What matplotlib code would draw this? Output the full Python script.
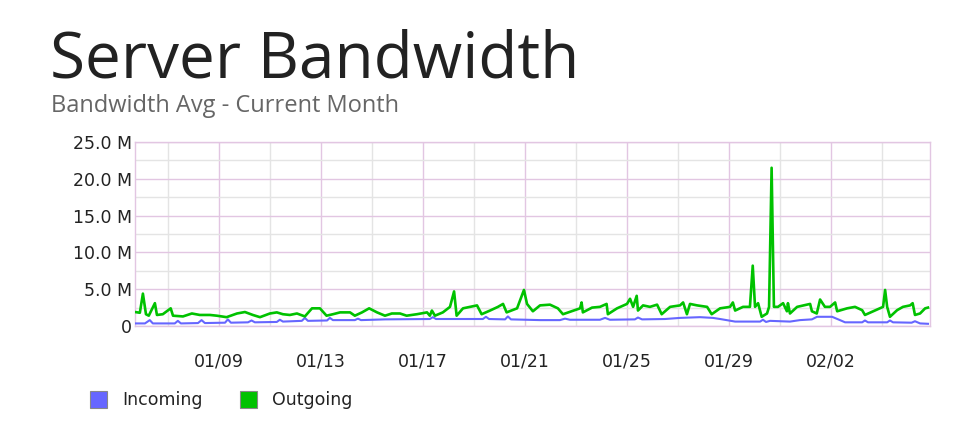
import datetime as dt
import matplotlib
matplotlib.use("Agg")
import matplotlib.pyplot as plt
from matplotlib.patches import Rectangle

# time as fractional day counted from Jan 0 (so 33.0 = Feb 2)
out_days = [5.71, 5.90, 6.02, 6.14, 6.25, 6.49, 6.57, 6.80, 7.11, 7.20, 7.59, 7.94,
            8.25, 8.65, 8.92, 9.30, 9.71, 10.02, 10.33, 10.61, 11.00, 11.27, 11.51,
            11.78, 12.06, 12.37, 12.65, 12.96, 13.22, 13.47, 13.75, 14.14, 14.33,
            14.61, 14.89, 15.20, 15.51, 15.78, 16.10, 16.36, 16.76, 17.16, 17.27,
            17.35, 17.47, 17.78, 18.06, 18.22, 18.32, 18.57, 18.84, 19.12, 19.30,
            19.63, 19.94, 20.14, 20.28, 20.69, 20.96, 21.08, 21.31, 21.59, 21.98,
            22.29, 22.49, 23.16, 23.22, 23.27, 23.63, 23.94, 24.20, 24.25, 24.61,
            25.00, 25.12, 25.24, 25.38, 25.43, 25.63, 25.90, 26.18, 26.36, 26.69,
            27.08, 27.20, 27.35, 27.47, 27.75, 28.14, 28.32, 28.65, 29.04, 29.15,
            29.24, 29.55, 29.82, 29.93, 30.02, 30.14, 30.28, 30.49, 30.57, 30.67,
            30.76, 30.92, 31.12, 31.27, 31.31, 31.39, 31.67, 32.18, 32.25, 32.44,
            32.57, 32.76, 32.96, 33.16, 33.24, 33.63, 33.94, 34.22, 34.33, 34.65,
            35.04, 35.12, 35.20, 35.31, 35.59, 35.82, 36.10, 36.20, 36.29, 36.49,
            36.69, 36.80]
outgoing = [1.9, 1.8, 4.4, 1.6, 1.4, 3.1, 1.5, 1.6, 2.4, 1.4, 1.3, 1.7,
            1.5, 1.5, 1.4, 1.2, 1.7, 1.9, 1.5, 1.2, 1.7, 1.85, 1.6,
            1.5, 1.7, 1.3, 2.4, 2.4, 1.4, 1.6, 1.85, 1.85, 1.4,
            1.85, 2.4, 1.85, 1.4, 1.7, 1.7, 1.4, 1.6, 1.85, 1.4,
            2.1, 1.4, 1.85, 2.6, 4.7, 1.4, 2.4, 2.6, 2.8, 1.6,
            2.1, 2.6, 3.0, 1.85, 2.4, 4.9, 3.0, 2.0, 2.8, 2.9,
            2.4, 1.6, 2.4, 3.2, 1.85, 2.5, 2.6, 3.0, 1.6, 2.4,
            3.0, 3.7, 2.6, 4.1, 2.1, 2.8, 2.6, 2.9, 1.6, 2.6,
            2.8, 3.2, 1.6, 3.0, 2.8, 2.6, 1.6, 2.4, 2.6, 3.2,
            2.1, 2.6, 2.6, 8.2, 2.6, 3.1, 1.25, 1.7, 2.6, 21.5,
            2.6, 2.6, 3.1, 2.0, 3.1, 1.7, 2.6, 3.0, 2.0, 1.7,
            3.6, 2.6, 2.6, 3.2, 2.0, 2.4, 2.6, 2.15, 1.5, 2.0,
            2.6, 4.9, 2.6, 1.25, 2.15, 2.6, 2.8, 3.1, 1.5, 1.7,
            2.4, 2.5]

in_days = [5.71, 6.10, 6.29, 6.41, 7.27, 7.39, 7.51, 8.18, 8.32, 8.45, 9.24, 9.35,
           9.47, 10.14, 10.28, 10.41, 11.27, 11.39, 11.51, 12.25, 12.37, 12.49,
           13.24, 13.35, 13.47, 14.33, 14.45, 14.57, 15.51, 17.27, 17.39, 17.51,
           18.45, 19.35, 19.47, 19.59, 20.22, 20.33, 20.45, 21.59, 22.37, 22.57,
           22.76, 23.94, 24.14, 24.33, 25.31, 25.43, 25.59, 26.49, 27.08, 27.86,
           28.37, 28.65, 29.24, 30.22, 30.33, 30.45, 30.61, 31.39, 31.78, 32.25,
           32.45, 33.04, 33.35, 33.55, 34.22, 34.33, 34.45, 35.20, 35.31, 35.43,
           36.16, 36.29, 36.49, 36.80]
incoming = [0.35, 0.35, 0.8, 0.35, 0.35, 0.7, 0.35, 0.4, 0.8, 0.4, 0.45, 0.9,
            0.45, 0.5, 0.75, 0.5, 0.55, 0.85, 0.6, 0.7, 1.1, 0.7,
            0.75, 1.1, 0.8, 0.8, 1.0, 0.8, 0.9, 0.95, 1.2, 0.95,
            0.95, 0.95, 1.25, 0.95, 0.9, 1.3, 0.9, 0.8, 0.8, 1.0,
            0.85, 0.85, 1.1, 0.85, 0.9, 1.15, 0.9, 0.95, 1.1, 1.2,
            1.1, 0.95, 0.6, 0.6, 0.85, 0.55, 0.7, 0.6, 0.8, 0.9,
            1.25, 1.25, 0.8, 0.5, 0.5, 0.75, 0.5, 0.5, 0.75, 0.5,
            0.45, 0.65, 0.35, 0.3]

tick_days = [9, 13, 17, 21, 25, 29, 33]
tick_labels = ["01/09", "01/13", "01/17", "01/21", "01/25", "01/29", "02/02"]
y_ticks = [0, 5, 10, 15, 20, 25]
y_labels = ["0", "5.0 M", "10.0 M", "15.0 M", "20.0 M", "25.0 M"]
x_range = [5.71, 36.88]

base = dt.datetime(2015, 1, 1)
def to_date(d):
    return base + dt.timedelta(days=d - 1)

fig = plt.figure(figsize=(9.66, 4.32), dpi=100)
ax = fig.add_axes([135 / 966, 1 - 326 / 432, 795 / 966, 184 / 432])

purple = "#e2c6e2"
grey = "#e4e4e4"
blue = "#6666ff"
green = "#00c200"

ax.plot([to_date(d) for d in in_days], incoming, color=blue, lw=1.5, zorder=3)
ax.plot([to_date(d) for d in out_days], outgoing, color=green, lw=1.9, zorder=4)

ax.set_xlim(to_date(x_range[0]), to_date(x_range[1]))
ax.set_ylim(0, 25)

ax.set_xticks([to_date(d) for d in tick_days])
ax.set_xticklabels(tick_labels)
ax.set_xticks([to_date(d - 2) for d in tick_days] + [to_date(35)], minor=True)
ax.set_yticks(y_ticks)
ax.set_yticklabels(y_labels)
ax.set_yticks([2.5, 7.5, 12.5, 17.5, 22.5], minor=True)

ax.grid(which="major", color=purple, lw=1.0, zorder=0)
ax.grid(which="minor", color=grey, lw=1.0, zorder=0)
ax.set_axisbelow(True)
ax.tick_params(which="both", length=0)
ax.tick_params(axis="y", pad=2, labelsize=12.5, labelcolor="#222222")
ax.tick_params(axis="x", pad=19, labelsize=12.5, labelcolor="#222222")
for lab in ax.get_xticklabels() + ax.get_yticklabels():
    lab.set_family("DejaVu Sans")
for s in ax.spines.values():
    s.set_color(purple)
    s.set_linewidth(1.0)

fig.text(50 / 966, 1 - 78 / 432, "Server Bandwidth", family="Open Sans",
         fontsize=46, color="#222222", va="baseline")
fig.text(51 / 966, 1 - 112 / 432, "Bandwidth Avg - Current Month", family="Open Sans",
         fontsize=17, color="#666666", va="baseline")

# legend
legend_items = [("Incoming", blue, 90), ("Outgoing", green, 240)]
for name, col, x0 in legend_items:
    fig.patches.append(Rectangle((x0 / 966, 1 - 408 / 432), 17 / 966, 17 / 432,
                                 transform=fig.transFigure, facecolor=col,
                                 edgecolor="#888888", lw=0.8))
    fig.text((x0 + 32) / 966, 1 - 400 / 432, name, family="DejaVu Sans",
             fontsize=12.5, color="#222222", va="center")

fig.savefig("out.png", dpi=100)
